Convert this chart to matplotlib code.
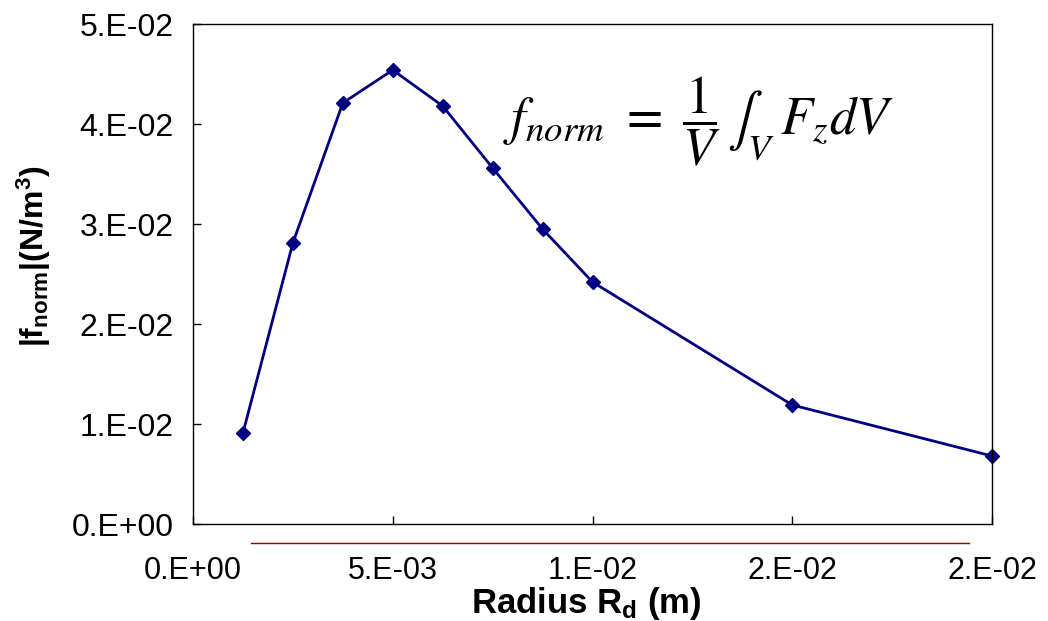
import matplotlib
matplotlib.use("Agg")
import matplotlib.pyplot as plt
from matplotlib.lines import Line2D

plt.rcParams['font.family'] = ['Liberation Sans', 'DejaVu Sans']
plt.rcParams['mathtext.fontset'] = 'custom'
plt.rcParams['mathtext.rm'] = 'Liberation Sans'
plt.rcParams['mathtext.bf'] = 'Liberation Sans:bold'
plt.rcParams['mathtext.it'] = 'Liberation Sans:italic'

# data
radius = [0.00125, 0.0025, 0.00375, 0.005, 0.00625, 0.0075, 0.00875, 0.01, 0.015, 0.02]
f_norm = [0.0091, 0.0281, 0.0421, 0.0454, 0.0418, 0.0356, 0.0295, 0.0242, 0.0119, 0.0068]

x_ticks = [0.0, 0.005, 0.01, 0.015, 0.02]
x_labels = ['0.E+00', '5.E-03', '1.E-02', '2.E-02', '2.E-02']
y_ticks = [0.0, 0.01, 0.02, 0.03, 0.04, 0.05]
y_labels = ['0.E+00', '1.E-02', '2.E-02', '3.E-02', '4.E-02', '5.E-02']

fig = plt.figure(figsize=(10.48, 6.21), dpi=100)
ax = fig.add_axes([193 / 1048, 1 - 524 / 621, (992 - 193) / 1048, (524 - 24) / 621])

ax.plot(radius, f_norm, color='#000080', linewidth=2, marker='D', markersize=7,
        clip_on=False)

ax.set_xlim(0, 0.02)
ax.set_ylim(0, 0.05)
ax.set_xticks(x_ticks)
ax.set_xticklabels(x_labels)
ax.set_yticks(y_ticks)
ax.set_yticklabels(y_labels)
ax.tick_params(axis='both', direction='in', length=6, width=1)
ax.tick_params(axis='x', pad=23, labelsize=22)
ax.tick_params(axis='y', pad=14, labelsize=23)
for s in ax.spines.values():
    s.set_linewidth(1)

ax.set_xlabel(r'Radius R$_\mathbf{d}$ (m)', fontsize=25, fontweight='bold')
ax.xaxis.set_label_coords(0.492, -0.122)
ax.set_ylabel(r'|f$_\mathbf{norm}$|(N/m$^\mathbf{3}$)', fontsize=23, fontweight='bold')
ax.yaxis.set_label_coords(-0.175, 0.535)

# formula in the plot
ax.text(0.388, 0.805, r'$f_{norm}\ =\ \dfrac{1}{V}\,\int_V\; F_z dV$',
        transform=ax.transAxes, fontsize=38, math_fontfamily='stix',
        ha='left', va='center')

# thin dark red line under the axis (as in the picture)
fig.add_artist(Line2D([251 / 1048, 969 / 1048], [1 - 543 / 621, 1 - 543 / 621],
                      color='#8b0000', linewidth=1.0, transform=fig.transFigure))

plt.savefig('out.png', dpi=100)
